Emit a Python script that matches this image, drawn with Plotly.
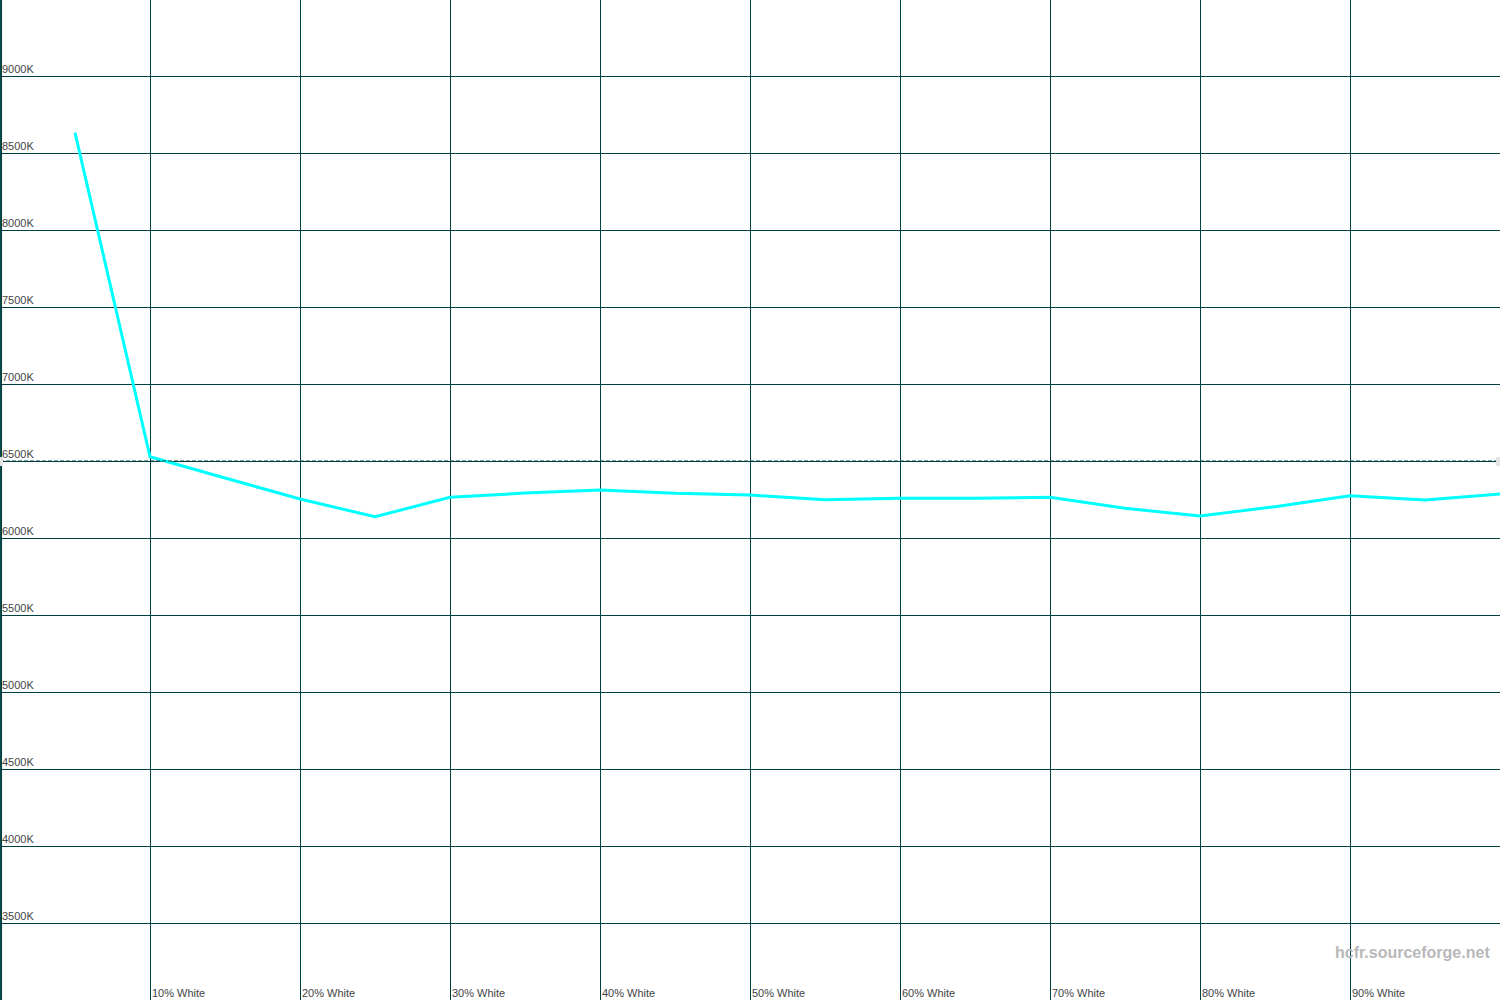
import plotly.graph_objects as go

# Data
levels = [5, 10, 15, 20, 25, 30, 35, 40, 45, 50, 55, 60, 65, 70, 75, 80, 85, 90, 95, 100]
colour_temp = [8632, 6528, 6390, 6253, 6138, 6264, 6292, 6312, 6290, 6279,
               6249, 6258, 6258, 6264, 6193, 6143, 6203, 6275, 6247, 6286]
x_tick_vals = [10, 20, 30, 40, 50, 60, 70, 80, 90]
x_tick_text = ["10% White", "20% White", "30% White", "40% White", "50% White",
               "60% White", "70% White", "80% White", "90% White"]
y_tick_vals = [3500, 4000, 4500, 5000, 5500, 6000, 6500, 7000, 7500, 8000, 8500, 9000]
y_tick_text = [f"{v}K" for v in y_tick_vals]
reference_temp = 6500

grid_col = "#004040"

fig = go.Figure()
fig.add_trace(go.Scatter(x=levels, y=colour_temp, mode="lines",
                         line=dict(color="#00FFFF", width=3), showlegend=False,
                         hoverinfo="skip"))

fig.add_shape(type="line", xref="paper", yref="y", x0=0, x1=1,
              y0=reference_temp, y1=reference_temp,
              line=dict(color=grid_col, width=1, dash="4px,2px"))
fig.add_shape(type="line", xref="paper", yref="paper", x0=0.0007, x1=0.0007,
              y0=0, y1=1, line=dict(color=grid_col, width=2))
# small grey handles at both ends of the reference line
for xa, xb in [(0, 3), (1496, 1500)]:
    fig.add_shape(type="rect", xref="paper", yref="paper",
                  x0=xa / 1500, x1=xb / 1500, y0=1 - 466 / 1000, y1=1 - 457 / 1000,
                  line=dict(width=0), fillcolor="#e3e3e3", layer="above")

fig.add_annotation(text="<b>hcfr.sourceforge.net</b>", xref="paper", yref="paper",
                   x=0.9945, y=0.048, xanchor="right", yanchor="middle",
                   showarrow=False, font=dict(family="Liberation Sans, Arial", size=16,
                                              color="#b8b8b8"))

fig.update_layout(
    width=1500, height=1000,
    margin=dict(l=0, r=0, t=0, b=0),
    paper_bgcolor="white", plot_bgcolor="white",
    font=dict(family="Liberation Sans, Arial", size=11, color="#404040"),
    xaxis=dict(range=[0, 100], tickvals=x_tick_vals, ticktext=x_tick_text,
               ticklabelposition="inside right", ticklabelshift=2, ticklabelstandoff=-5,
               showgrid=True, gridcolor=grid_col,
               gridwidth=1, zeroline=False, showline=False, ticks="",
               automargin=False, fixedrange=True),
    yaxis=dict(range=[3000, 9493.5], tickvals=y_tick_vals, ticktext=y_tick_text,
               ticklabelposition="inside top", ticklabelshift=1, ticklabelstandoff=-1,
               showgrid=True, gridcolor=grid_col,
               gridwidth=1, zeroline=False, showline=False, ticks="",
               automargin=False, fixedrange=True),
)

fig.write_html("out.html", config={"displayModeBar": False},
               post_script="document.body.style.margin='0';document.body.style.overflow='hidden';")
